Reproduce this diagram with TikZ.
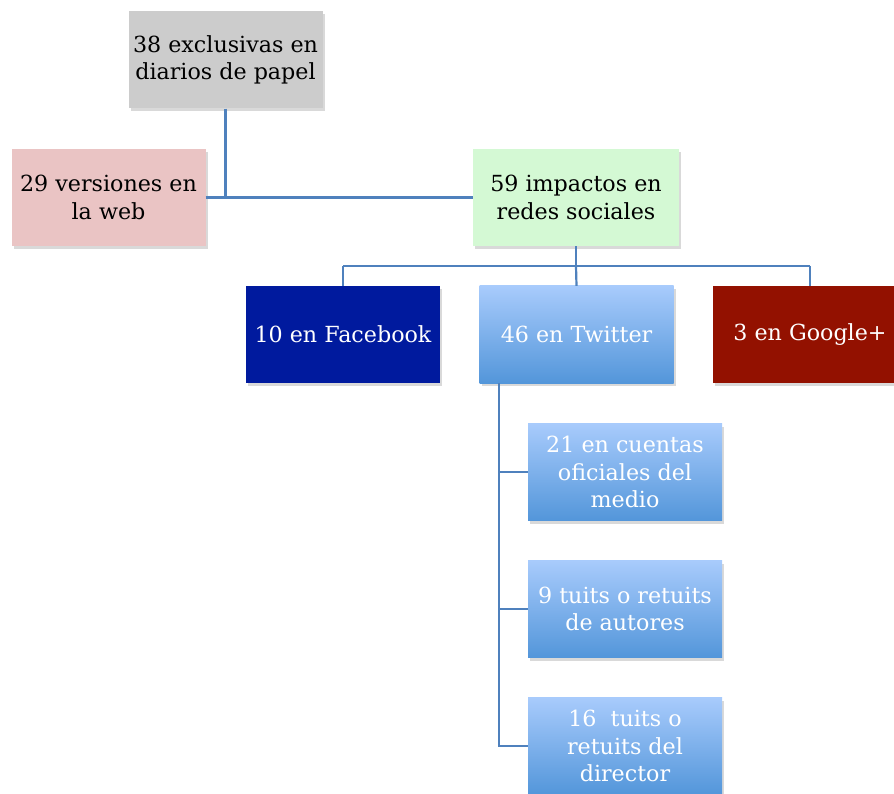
\documentclass[tikz,border=0pt]{standalone}
\usepackage{fontspec}
\setmainfont{DejaVu Serif}
\usetikzlibrary{shadows}
\definecolor{linec}{RGB}{79,129,189}
\definecolor{grayc}{RGB}{204,204,204}
\definecolor{pinkc}{RGB}{234,196,196}
\definecolor{greenc}{RGB}{212,249,212}
\definecolor{fbc}{RGB}{0,26,158}
\definecolor{gpc}{RGB}{147,17,0}
\definecolor{twtop}{RGB}{168,203,252}
\definecolor{twbot}{RGB}{83,150,218}
\tikzset{
  box/.style={rectangle, minimum width=194pt, minimum height=97pt, inner sep=0pt,
    align=center, font=\fontsize{22.2}{27.5}\selectfont,
    drop shadow={opacity=0.3, shadow xshift=2pt, shadow yshift=-3pt}},
  conn/.style={draw=linec, line width=2.2pt},
  twbox/.style={box, top color=twtop, bottom color=twbot, text=white}
}
\begin{document}
\begin{tikzpicture}[x=1pt,y=-1pt]
\useasboundingbox (0,0) rectangle (894,794);
\node[box, fill=grayc] (top) at (225.5,60) {38 exclusivas en\\diarios de papel};
\node[box, fill=pinkc] (web) at (108.5,197.5) {29 versiones en\\la web};
\node[box, fill=greenc, minimum width=206pt] (redes) at (576,197.5) {59 impactos en\\redes sociales};
\node[box, fill=fbc, text=white] (fb) at (343,334.5) {10 en Facebook};
\node[twbox] (tw) at (576.5,334.5) {46 en Twitter};
\node[box, fill=gpc, text=white] (gp) at (810,334.5) {3 en Google+};
\node[twbox] (c1) at (625,472) {21 en cuentas\\oficiales del\\medio};
\node[twbox] (c2) at (625,609) {9 tuits o retuits\\de autores};
\node[twbox] (c3) at (625,746) {16\ \ tuits o\\retuits del\\director};
\coordinate (bar) at (576,266);
\coordinate (tx) at (499,383);
\draw[conn] (top.south) -- (top.south |- web.east);
\draw[conn] (web.east) -- (redes.west);
\draw[conn] (redes.south) -- (bar);
\draw[conn] (fb.north |- bar) -- (gp.north |- bar);
\draw[conn] (fb.north |- bar) -- (fb.north);
\draw[conn] (bar) -- (tw.north);
\draw[conn] (gp.north |- bar) -- (gp.north);
\draw[conn] (tx) -- (tx |- c3.west) -- (c3.west);
\draw[conn] (tx |- c1.west) -- (c1.west);
\draw[conn] (tx |- c2.west) -- (c2.west);
\end{tikzpicture}
\end{document}
